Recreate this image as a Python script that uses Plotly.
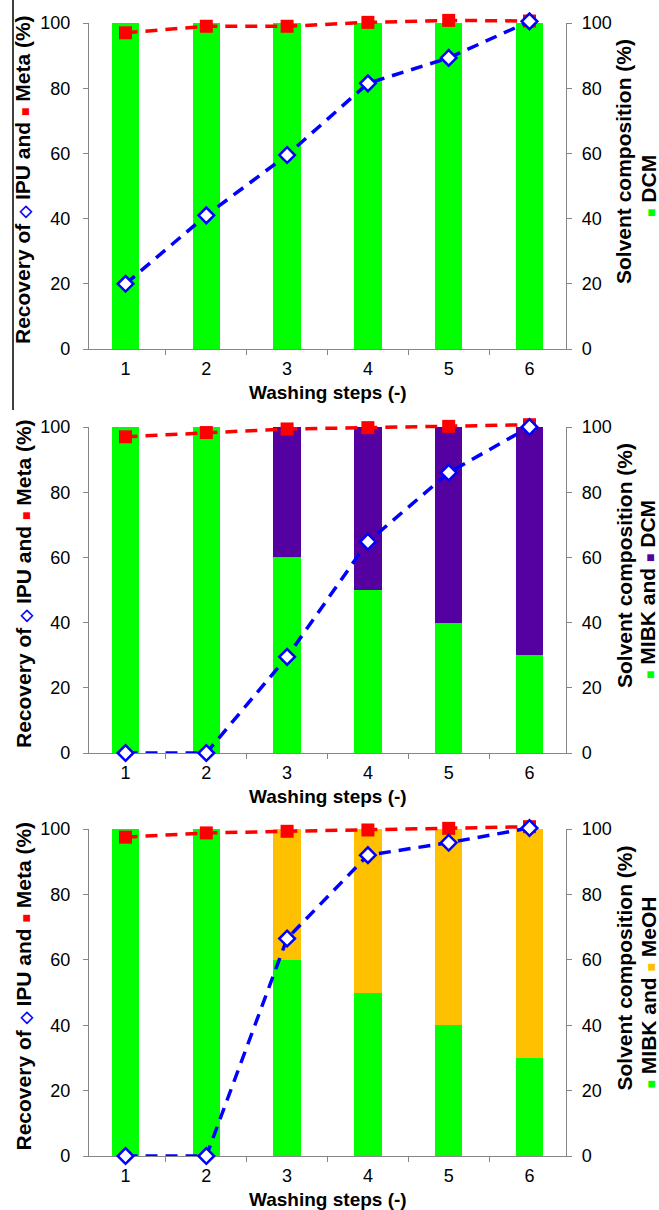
import plotly.graph_objects as go

steps = [1, 2, 3, 4, 5, 6]
tick_labels = ["1", "2", "3", "4", "5", "6"]

# Panel 1 (DCM only)
p1_meta = [97.0, 99.0, 99.0, 100.2, 100.8, 100.6]
p1_ipu = [20.0, 41.0, 59.5, 81.5, 89.3, 100.5]
p1_dcm = [100, 100, 100, 100, 100, 100]

# Panel 2 (MIBK and DCM)
p2_meta = [97.0, 98.3, 99.4, 99.8, 100.2, 100.7]
p2_ipu = [0.0, 0.0, 29.5, 64.8, 86.0, 100.0]
p2_mibk = [100, 100, 60, 50, 40, 30]
p2_dcm = [0, 0, 40, 50, 60, 70]

# Panel 3 (MIBK and MeOH)
p3_meta = [97.5, 98.8, 99.3, 99.7, 100.2, 100.7]
p3_ipu = [0.0, 0.0, 66.5, 92.0, 95.8, 100.3]
p3_mibk = [100, 100, 60, 50, 40, 30]
p3_meoh = [0, 0, 40, 50, 60, 70]

GREEN = "#00FF00"
PURPLE = "#5500A0"
ORANGE = "#FFC000"
RED = "#FF0000"
BLUE = "#0000FF"
GRAY = "#868686"
FONT = "Liberation Sans, Arial, sans-serif"

W, H = 659, 1210


def px(x):
    return x / W


def py(y):
    return 1 - y / H


def sq(color):
    return "<span style='color:%s;font-size:14px'>■</span>" % color


x_left, x_right = 89, 566
panels_px = [(23, 349), (427, 753), (829, 1156)]
EXTRA = 4.0  # headroom (data units) for the line axes so points above 100 stay visible

fig = go.Figure()
layout = dict(
    width=W, height=H, margin=dict(l=0, r=0, t=0, b=0, autoexpand=False),
    paper_bgcolor="white", plot_bgcolor="rgba(0,0,0,0)",
    showlegend=False, barmode="stack", bargap=0,
    font=dict(family=FONT, size=18, color="black"),
)

panel_bars = [
    [(p1_dcm, GREEN)],
    [(p2_mibk, GREEN), (p2_dcm, PURPLE)],
    [(p3_mibk, GREEN), (p3_meoh, ORANGE)],
]
panel_meta = [p1_meta, p2_meta, p3_meta]
panel_ipu = [p1_ipu, p2_ipu, p3_ipu]
right_second = [
    sq(GREEN) + " DCM",
    sq(GREEN) + " MIBK and " + sq(PURPLE) + " DCM",
    sq(GREEN) + " MIBK and " + sq(ORANGE) + " MeOH",
]

axis_common = dict(range=[0, 100], tickvals=[0, 20, 40, 60, 80, 100], ticks="outside", ticklen=5,
                   tickcolor=GRAY, tickwidth=1.2, showline=True, linecolor=GRAY, linewidth=1.2,
                   showgrid=False, zeroline=False, tickfont=dict(size=18), automargin=False)

annotations = []
shapes = []
for i in range(3):
    top, bot = panels_px[i]
    xn = "" if i == 0 else str(i + 1)
    yb = 3 * i + 1   # bars, left axis (base)
    yd = 3 * i + 2   # right axis (overlaying, solvent composition)
    yl = 3 * i + 3   # invisible axis for the lines
    ybn = "" if yb == 1 else str(yb)
    ppu = (bot - top) / 100.0
    for vals, col in panel_bars[i]:
        fig.add_trace(go.Bar(x=steps, y=vals, width=0.34, marker=dict(color=col, line=dict(width=0)),
                             hoverinfo="skip", xaxis="x" + xn, yaxis="y" + ybn))
    # transparent companion of the first bar series so the right axis is drawn
    fig.add_trace(go.Scatter(x=steps, y=panel_bars[i][0][0], mode="markers",
                             marker=dict(opacity=0, size=1), hoverinfo="skip",
                             xaxis="x" + xn, yaxis="y" + str(yd)))
    fig.add_trace(go.Scatter(x=steps, y=panel_meta[i], mode="lines+markers",
                             line=dict(color=RED, width=3.5, dash="12px,8px"),
                             marker=dict(symbol="square", size=13, color=RED),
                             cliponaxis=False, xaxis="x" + xn, yaxis="y" + str(yl)))
    fig.add_trace(go.Scatter(x=steps, y=panel_ipu[i], mode="lines+markers",
                             line=dict(color=BLUE, width=3.5, dash="12px,8px"),
                             marker=dict(symbol="diamond", size=12, color="white",
                                         line=dict(color=BLUE, width=2.5)),
                             cliponaxis=False, xaxis="x" + xn, yaxis="y" + str(yl)))
    dom_y = [py(bot), py(top)]
    dom_l = [py(bot), py(top - EXTRA * ppu)]
    layout["xaxis" + xn] = dict(
        domain=[px(x_left), px(x_right)], anchor="y" + ybn, range=[0.548, 6.452],
        tickvals=steps, ticktext=tick_labels, ticks="", showline=True, linecolor=GRAY,
        linewidth=1.2, showgrid=False, zeroline=False, tickfont=dict(size=18), automargin=False,
        ticklabelstandoff=3,
        minor=dict(tickvals=[1.5, 2.5, 3.5, 4.5, 5.5], ticks="outside", ticklen=5,
                   tickcolor=GRAY, tickwidth=1.2, showgrid=False),
    )
    layout["yaxis" + ybn] = dict(domain=dom_y, anchor="x" + xn, side="left",
                                 ticklabelstandoff=9, **axis_common)
    layout["yaxis" + str(yd)] = dict(overlaying="y" + ybn, anchor="x" + xn, side="right",
                                     ticklabelstandoff=6, **axis_common)
    layout["yaxis" + str(yl)] = dict(domain=dom_l, anchor="x" + xn, range=[0, 100 + EXTRA],
                                     visible=False, showgrid=False, zeroline=False, automargin=False)
    mid = (top + bot) / 2
    annotations.append(dict(
        text="<b>Recovery of <span style='color:%s;font-size:16px'>◇</span> IPU and %s Meta (%%)</b>" % (BLUE, sq(RED)),
        xref="paper", yref="paper", x=px(23), y=py(mid - 6), textangle=-90,
        xanchor="center", yanchor="middle", showarrow=False, font=dict(size=21, family=FONT)))
    annotations.append(dict(
        text="<b>Solvent composition (%)</b>",
        xref="paper", yref="paper", x=px(624), y=py(mid - 24), textangle=-90,
        xanchor="center", yanchor="middle", showarrow=False, font=dict(size=21, family=FONT)))
    annotations.append(dict(
        text="<b>" + right_second[i] + "</b>",
        xref="paper", yref="paper", x=px(648), y=py(mid), textangle=-90,
        xanchor="center", yanchor="middle", showarrow=False, font=dict(size=21, family=FONT)))
    annotations.append(dict(
        text="<b>Washing steps (-)</b>",
        xref="paper", yref="paper", x=px((x_left + x_right) / 2), y=py(bot + 43),
        xanchor="center", yanchor="middle", showarrow=False, font=dict(size=19, family=FONT)))

shapes.append(dict(type="line", xref="paper", yref="paper", x0=px(13), x1=px(13),
                   y0=1, y1=py(410), line=dict(color="black", width=1.5)))

layout["annotations"] = annotations
layout["shapes"] = shapes
fig.update_layout(**layout)
fig.write_html("out.html", config={"displayModeBar": False},
               post_script="document.body.style.margin='0';document.body.style.overflow='hidden';")
